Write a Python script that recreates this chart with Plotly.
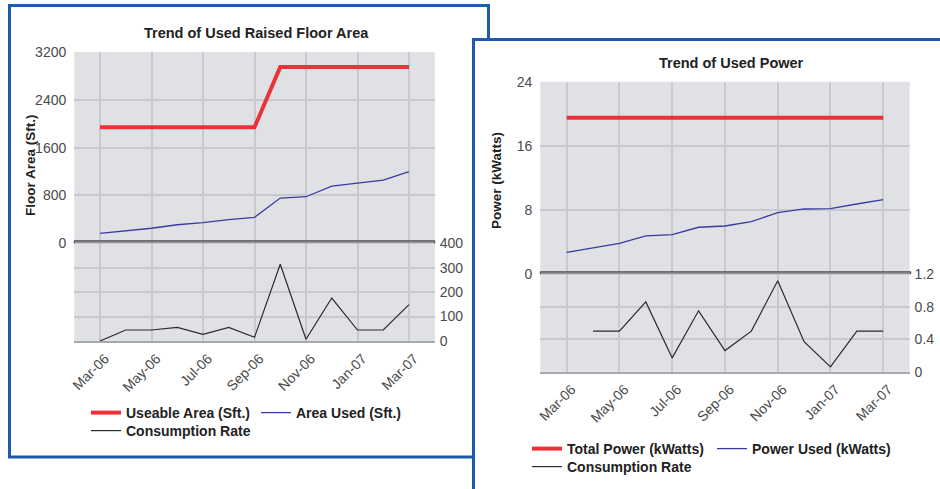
import plotly.graph_objects as go

W, H = 940, 489

# ---------------- data ----------------
months = ["Mar-06", "Apr-06", "May-06", "Jun-06", "Jul-06", "Aug-06", "Sep-06",
          "Oct-06", "Nov-06", "Dec-06", "Jan-07", "Feb-07", "Mar-07"]
tick_labels = ["Mar-06", "May-06", "Jul-06", "Sep-06", "Nov-06", "Jan-07", "Mar-07"]

useable_area = [1940, 1940, 1940, 1940, 1940, 1940, 1940, 2950, 2950, 2950, 2950, 2950, 2950]
area_used = [167, 210, 252, 310, 345, 395, 435, 757, 779, 957, 1013, 1057, 1197]
area_rate = [0, 45, 45, 56, 27, 56, 15, 314, 7, 176, 45, 45, 149]

total_power = [19.5, 19.5, 19.5, 19.5, 19.5, 19.5, 19.5, 19.5, 19.5, 19.5, 19.5, 19.5, 19.5]
power_used = [2.74, 3.3, 3.86, 4.78, 4.94, 5.86, 6.02, 6.56, 7.68, 8.14, 8.18, 8.76, 9.3]
power_rate = [None, 0.5, 0.5, 0.86, 0.17, 0.75, 0.26, 0.5, 1.12, 0.37, 0.06, 0.5, 0.5]

area_ticks = [0, 800, 1600, 2400, 3200]
area_rate_ticks = [0, 100, 200, 300, 400]
power_ticks = [0, 8, 16, 24]
power_rate_ticks = [0, 0.4, 0.8, 1.2]

# ---------------- styles ----------------
FONT = "Liberation Sans, Arial, sans-serif"
RED = "#ea3238"
BLUE = "#3b3b9e"
BLACK = "#2b2b2b"
GRID = "#c8c9cf"
BG = "#e0e1e5"
FRAME = "#1d5cab"
TICKC = "#4a4a4a"


def px(x):
    return x / W


def py(y):
    return 1 - y / H


# plot-area geometry (window pixels)
L_x = [74.25, 434.75]
L_up = [52, 243.3]
L_lo = [243.3, 341]
R_x = [540.3, 909.6]
R_up = [81.7, 274.3]
R_lo = [274.3, 371.7]


def xdom(a):
    return [px(a[0]), px(a[1])]


def ydom(a):
    return [py(a[1]), py(a[0])]


fig = go.Figure()

# left chart traces
fig.add_trace(go.Scatter(x=months, y=useable_area, name="Useable Area (Sft.)", mode="lines",
                         line=dict(color=RED, width=4), xaxis="x", yaxis="y", legend="legend"))
fig.add_trace(go.Scatter(x=months, y=area_used, name="Area Used (Sft.)", mode="lines",
                         line=dict(color=BLUE, width=1.3), xaxis="x", yaxis="y", legend="legend"))
fig.add_trace(go.Scatter(x=months, y=area_rate, name="Consumption Rate", mode="lines",
                         line=dict(color=BLACK, width=1.2), xaxis="x2", yaxis="y2", legend="legend2"))
# right chart traces
fig.add_trace(go.Scatter(x=months, y=total_power, name="Total Power (kWatts)", mode="lines",
                         line=dict(color=RED, width=4), xaxis="x3", yaxis="y3", legend="legend3"))
fig.add_trace(go.Scatter(x=months, y=power_used, name="Power Used (kWatts)", mode="lines",
                         line=dict(color=BLUE, width=1.3), xaxis="x3", yaxis="y3", legend="legend3"))
fig.add_trace(go.Scatter(x=months, y=power_rate, name="Consumption Rate", mode="lines",
                         line=dict(color=BLACK, width=1.2), xaxis="x4", yaxis="y4", legend="legend4"))

tickfont = dict(family=FONT, size=14, color=TICKC)


def xax(dom, anchor, labels):
    return dict(domain=dom, anchor=anchor, type="category", range=[-1, 13],
                tickmode="array", tickvals=tick_labels, ticktext=tick_labels,
                showticklabels=labels, tickangle=-45, tickfont=tickfont,
                ticklabelshift=5, ticklabelstandoff=2,
                showgrid=True, gridcolor=GRID, gridwidth=1.5, ticks="",
                zeroline=False, showline=labels, linecolor="#a6a9ae", linewidth=2,
                automargin=False, fixedrange=True)


def yax(dom, anchor, rng, vals, side, standoff):
    return dict(domain=dom, anchor=anchor, range=rng, tickmode="array", tickvals=vals,
                side=side, tickfont=tickfont, showgrid=True, gridcolor=GRID, gridwidth=1.5,
                ticks="", zeroline=False, showline=False, ticklabelstandoff=standoff,
                automargin=False, fixedrange=True)


legfont = dict(family=FONT, size=14, color="#222222", weight="bold")


def leg(x, y, ew):
    return dict(x=px(x), y=py(y), xanchor="left", yanchor="middle", orientation="h",
                font=legfont, bgcolor="rgba(0,0,0,0)", borderwidth=0,
                entrywidth=ew, entrywidthmode="pixels", itemwidth=30, tracegroupgap=0)


shapes = [
    # left panel frame
    dict(type="rect", xref="paper", yref="paper", x0=px(9.5), x1=px(488.5), y0=py(5.5), y1=py(457),
         line=dict(color=FRAME, width=3), fillcolor="white", layer="below"),
    # right panel frame (overlapping the left one)
    dict(type="rect", xref="paper", yref="paper", x0=px(473.5), x1=px(990), y0=py(39.5), y1=py(530),
         line=dict(color=FRAME, width=3), fillcolor="white", layer="below"),
    # plot area backgrounds
    dict(type="rect", xref="paper", yref="paper", x0=px(L_x[0]), x1=px(L_x[1]), y0=py(L_lo[1]), y1=py(L_up[0]),
         line=dict(width=0), fillcolor=BG, layer="below"),
    dict(type="rect", xref="paper", yref="paper", x0=px(R_x[0]), x1=px(R_x[1]), y0=py(R_lo[1]), y1=py(R_up[0]),
         line=dict(width=0), fillcolor=BG, layer="below"),
    # separator bars at the zero of the upper charts
    dict(type="rect", xref="x domain", yref="y", x0=0, x1=1, ysizemode="pixel", yanchor=0, y0=-2.5, y1=2.5,
         line=dict(color="#474747", width=1), fillcolor="#929292", layer="above"),
    dict(type="rect", xref="x3 domain", yref="y3", x0=0, x1=1.003, ysizemode="pixel", yanchor=0, y0=-2.5, y1=2.5,
         line=dict(color="#474747", width=1), fillcolor="#929292", layer="above"),
]

titlefont = dict(family=FONT, size=14.5, color="#222222", weight="bold")
axtitlefont = dict(family=FONT, size=13.5, color="#222222", weight="bold")
annotations = [
    dict(text="Trend of Used Raised Floor Area", x=px(256.5), y=py(33), xref="paper", yref="paper",
         showarrow=False, font=titlefont, xanchor="center", yanchor="middle"),
    dict(text="Trend of Used Power", x=px(731), y=py(63), xref="paper", yref="paper",
         showarrow=False, font=titlefont, xanchor="center", yanchor="middle"),
    dict(text="Floor Area (Sft.)", x=px(30), y=py(165), xref="paper", yref="paper", textangle=-90,
         showarrow=False, font=axtitlefont, xanchor="center", yanchor="middle"),
    dict(text="Power (kWatts)", x=px(497), y=py(181), xref="paper", yref="paper", textangle=-90,
         showarrow=False, font=axtitlefont, xanchor="center", yanchor="middle"),
]

fig.update_layout(
    template="none",
    width=W, height=H, margin=dict(l=0, r=0, t=0, b=0, pad=0, autoexpand=False),
    paper_bgcolor="white", plot_bgcolor="rgba(0,0,0,0)",
    font=dict(family=FONT),
    showlegend=True,
    xaxis=xax(xdom(L_x), "y", False),
    yaxis=yax(ydom(L_up), "x", [0, 3200], area_ticks, "left", 7),
    xaxis2=xax(xdom(L_x), "y2", True),
    yaxis2=yax(ydom(L_lo), "x2", [0, 400], area_rate_ticks, "right", 4),
    xaxis3=xax(xdom(R_x), "y3", False),
    yaxis3=yax(ydom(R_up), "x3", [0, 24], power_ticks, "left", 7),
    xaxis4=xax(xdom(R_x), "y4", True),
    yaxis4=yax(ydom(R_lo), "x4", [0, 1.2], power_rate_ticks, "right", 4),
    legend=leg(86, 413, 125),
    legend2=leg(86, 431, 125),
    legend3=leg(527, 449, 140),
    legend4=leg(527, 467, 140),
    shapes=shapes,
    annotations=annotations,
)

# remove the browser's default 8px page margin so the figure fills the window
fig.write_html("out.html",
               config={"displayModeBar": False, "staticPlot": False},
               post_script="document.body.style.margin='0';document.body.style.overflow='hidden';")
